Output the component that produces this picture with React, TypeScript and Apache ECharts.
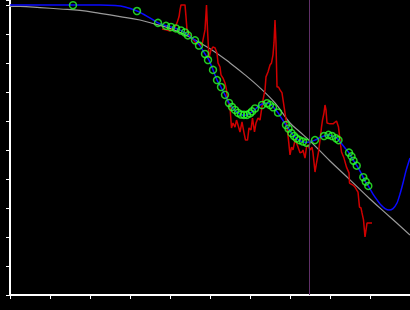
import React, { useEffect, useRef } from "react";
import * as echarts from "echarts";

// Gray reference curve (x, y)
const trendCurve: [number, number][] = [
  [-0.25, 9.95], [0.25, 9.95], [0.75, 9.91], [1.25, 9.86], [1.75, 9.81], [2.25, 9.71],
  [2.75, 9.6], [3.25, 9.48], [3.625, 9.34], [4.0, 9.19], [4.375, 8.97], [4.75, 8.69],
  [5.125, 8.38], [5.5, 8.0], [5.875, 7.59], [6.25, 7.14], [6.625, 6.62], [7.0, 5.93],
  [7.25, 5.62], [7.475, 5.34], [7.75, 4.97], [8.0, 4.62], [8.5, 3.97], [9.0, 3.31],
  [9.5, 2.69], [10.0, 2.07],
];

// Blue fitted curve (x, y)
const fitCurve: [number, number][] = [
  [0, 10.0], [0.75, 10.0], [1.5, 10.0], [2.25, 10.0], [2.625, 9.98], [2.875, 9.93],
  [3.175, 9.79], [3.45, 9.59], [3.7, 9.38], [3.9, 9.28], [4.025, 9.24], [4.15, 9.19],
  [4.275, 9.12], [4.45, 8.97], [4.625, 8.78], [4.75, 8.59], [4.875, 8.31], [4.975, 8.1],
  [5.075, 7.76], [5.175, 7.41], [5.275, 7.17], [5.375, 6.9], [5.475, 6.62], [5.55, 6.48],
  [5.65, 6.33], [5.75, 6.24], [5.85, 6.19], [5.95, 6.22], [6.05, 6.31], [6.15, 6.43],
  [6.25, 6.55], [6.35, 6.6], [6.45, 6.62], [6.525, 6.55], [6.6, 6.45], [6.7, 6.28],
  [6.8, 6.07], [6.9, 5.86], [7.0, 5.66], [7.1, 5.48], [7.2, 5.36], [7.3, 5.29],
  [7.4, 5.26], [7.5, 5.28], [7.625, 5.34], [7.75, 5.43], [7.85, 5.48], [7.975, 5.52],
  [8.075, 5.47], [8.175, 5.4], [8.275, 5.24], [8.375, 5.07], [8.475, 4.9], [8.575, 4.66],
  [8.675, 4.45], [8.775, 4.21], [8.875, 3.93], [8.975, 3.72], [9.075, 3.48], [9.175, 3.28],
  [9.275, 3.1], [9.375, 2.98], [9.475, 2.93], [9.575, 2.98], [9.675, 3.17], [9.75, 3.48],
  [9.825, 3.86], [9.9, 4.28], [10.0, 4.72],
];

// Green sample points (x, y)
const samples: [number, number][] = [
  [1.575, 9.99], [3.175, 9.79], [3.7, 9.38], [3.9, 9.28], [4.025, 9.24], [4.15, 9.19],
  [4.275, 9.12], [4.375, 9.05], [4.45, 8.95], [4.625, 8.78], [4.725, 8.6], [4.875, 8.31],
  [4.95, 8.1], [5.075, 7.76], [5.175, 7.41], [5.275, 7.17], [5.375, 6.9], [5.475, 6.62],
  [5.55, 6.48], [5.625, 6.38], [5.7, 6.28], [5.775, 6.22], [5.85, 6.21], [5.925, 6.21],
  [6.0, 6.26], [6.05, 6.33], [6.125, 6.43], [6.3, 6.55], [6.425, 6.61], [6.5, 6.55],
  [6.575, 6.47], [6.7, 6.29], [6.9, 5.86], [6.9625, 5.74], [7.0375, 5.58], [7.1, 5.48],
  [7.1625, 5.4], [7.2375, 5.34], [7.325, 5.29], [7.4125, 5.25], [7.625, 5.34], [7.85, 5.48],
  [7.9625, 5.52], [8.05, 5.48], [8.15, 5.4], [8.2125, 5.34], [8.475, 4.91], [8.5375, 4.78],
  [8.5875, 4.63], [8.6675, 4.46], [8.8325, 4.06], [8.8925, 3.91], [8.9575, 3.76],
];

// Red noisy measurement (x, y)
const measured: [number, number][] = [
  [3.8, 9.17], [3.9, 9.14], [4.0, 9.1], [4.05, 9.17], [4.125, 9.24], [4.175, 9.38],
  [4.225, 9.59], [4.25, 9.83], [4.275, 10.0], [4.375, 10.0], [4.4, 9.59], [4.425, 9.14],
  [4.475, 9.0], [4.55, 8.86], [4.625, 8.72], [4.7, 8.66], [4.8, 8.62], [4.875, 9.14],
  [4.9125, 10.0], [4.9375, 9.14], [4.975, 8.17], [5.025, 8.45], [5.075, 8.55], [5.125, 8.52],
  [5.175, 8.34], [5.2, 8.0], [5.25, 7.86], [5.275, 7.59], [5.325, 7.48], [5.375, 7.31],
  [5.4125, 7.07], [5.4375, 6.72], [5.5, 6.48], [5.5375, 5.76], [5.575, 5.93], [5.625, 5.79],
  [5.6625, 6.03], [5.7, 5.86], [5.75, 5.62], [5.8, 5.97], [5.85, 5.59], [5.8875, 5.34],
  [5.9375, 5.34], [5.975, 5.76], [6.025, 5.69], [6.0625, 6.1], [6.1125, 5.62], [6.15, 5.93],
  [6.2, 6.1], [6.25, 6.03], [6.2875, 6.38], [6.325, 6.72], [6.375, 7.07], [6.4, 7.52],
  [6.45, 7.69], [6.5, 7.93], [6.5375, 8.0], [6.575, 8.28], [6.6, 8.69], [6.625, 9.48],
  [6.65, 8.69], [6.675, 7.17], [6.7125, 7.17], [6.75, 7.07], [6.8, 6.97], [6.8375, 6.62],
  [6.875, 6.28], [6.9125, 5.93], [6.9625, 5.34], [7.0, 4.83], [7.0375, 5.1], [7.075, 5.0],
  [7.125, 5.34], [7.1625, 5.24], [7.2, 5.1], [7.25, 4.9], [7.3, 4.93], [7.325, 5.0],
  [7.375, 4.72], [7.4125, 5.1], [7.45, 5.17], [7.5, 5.0], [7.55, 5.1], [7.575, 4.9],
  [7.625, 4.24], [7.6625, 4.55], [7.7125, 4.93], [7.75, 5.34], [7.7875, 5.79], [7.8125, 6.03],
  [7.85, 6.28], [7.875, 6.55], [7.9, 6.38], [7.925, 5.93], [8.0, 5.9], [8.075, 5.9],
  [8.1625, 6.0], [8.2125, 5.79], [8.25, 5.34], [8.2875, 4.93], [8.35, 4.72], [8.4125, 4.41],
  [8.475, 4.21], [8.4875, 3.86], [8.575, 3.79], [8.625, 3.72], [8.7, 3.55], [8.7375, 3.03],
  [8.775, 3.0], [8.8, 2.83], [8.8375, 2.59], [8.875, 2.0], [8.9, 2.24], [8.925, 2.48],
  [8.975, 2.48], [9.05, 2.48],
];

// Vertical cursor position
const cursorX = 7.475;

// Axis ranges
const xRange = { min: 0, max: 10, interval: 1 };
const yRange = { min: 0, max: 10.17, interval: 1 };

export default function App() {
  const ref = useRef<HTMLDivElement>(null);
  useEffect(() => {
    if (!ref.current) return;
    const chart = echarts.init(ref.current, undefined, { renderer: "svg" });
    const axisCommon = {
      type: "value" as const,
      axisLine: { show: true, onZero: false, lineStyle: { color: "#ffffff", width: 2 } },
      axisTick: { show: true, length: 4, lineStyle: { color: "#ffffff", width: 1 } },
      axisLabel: { show: false },
      splitLine: { show: false },
    };
    chart.setOption({
      animation: false,
      backgroundColor: "#000000",
      grid: { left: 10, right: 0, top: 0, bottom: 15, containLabel: false },
      xAxis: { ...axisCommon, ...xRange },
      yAxis: { ...axisCommon, ...yRange },
      series: [
        {
          type: "line",
          data: trendCurve,
          smooth: 0.4,
          clip: false,
          showSymbol: false,
          symbol: "none",
          lineStyle: { color: "#9a9a9a", width: 1.2 },
          z: 1,
          markLine: {
            silent: true,
            symbol: ["none", "none"],
            label: { show: false },
            lineStyle: { color: "#603068", width: 1, type: "solid" },
            data: [{ xAxis: cursorX }],
          },
        },
        {
          type: "line",
          data: measured,
          showSymbol: false,
          symbol: "none",
          lineStyle: { color: "#d00000", width: 1.5 },
          z: 2,
        },
        {
          type: "line",
          data: fitCurve,
          smooth: 0.2,
          showSymbol: false,
          symbol: "none",
          lineStyle: { color: "#0a0aff", width: 1.5 },
          z: 3,
        },
        {
          type: "scatter",
          data: samples,
          symbol: "circle",
          symbolSize: 7,
          itemStyle: { color: "rgba(0,0,0,0)", borderColor: "#2bff2b", borderWidth: 1.5 },
          z: 4,
        },
      ],
    });
    return () => chart.dispose();
  }, []);
  return (
    <div
      ref={ref}
      style={{ position: "fixed", left: 0, top: 0, width: 410, height: 310, background: "#000" }}
    />
  );
}
